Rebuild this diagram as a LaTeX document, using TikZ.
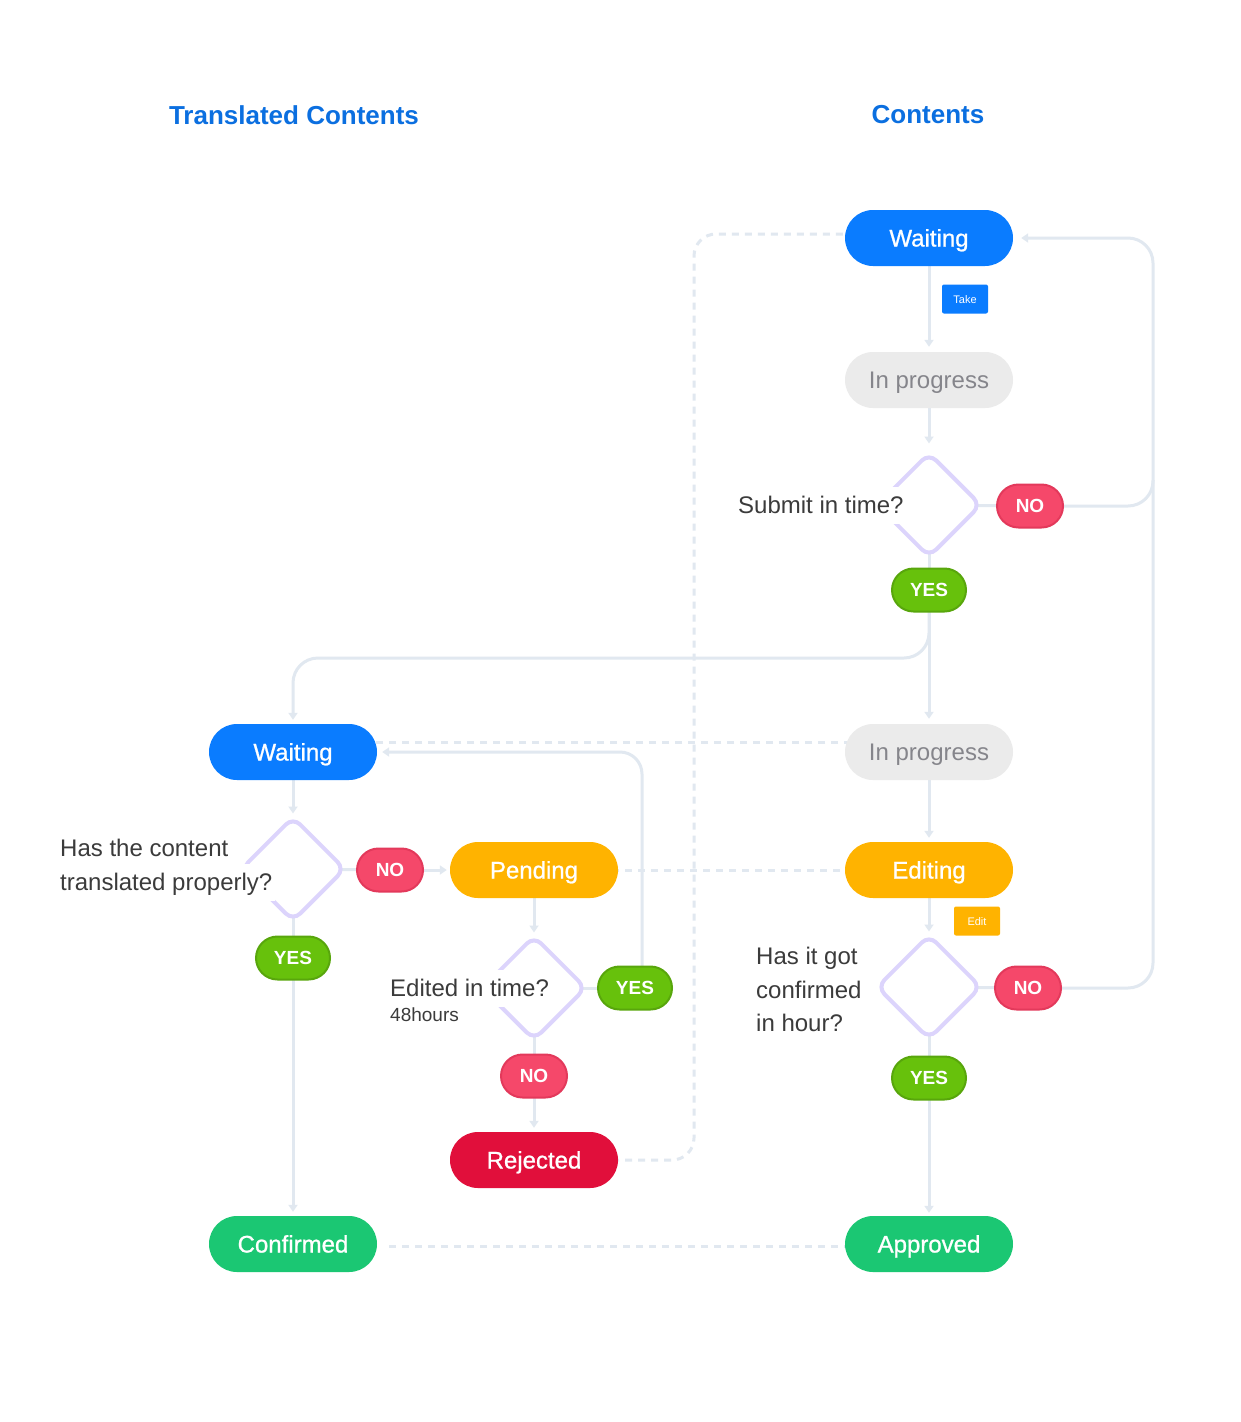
\documentclass[tikz,border=0pt]{standalone}
\usepackage{fontspec}
\setmainfont{Liberation Sans}
\newfontfamily\medfont[FakeBold=0.9]{Liberation Sans}
\usetikzlibrary{shapes.geometric,arrows.meta,backgrounds}
\definecolor{hblue}{HTML}{0B6FE0}
\definecolor{pblue}{HTML}{0A7CFF}
\definecolor{pgray}{HTML}{EBEBEB}
\definecolor{pgraytext}{HTML}{85858B}
\definecolor{amber}{HTML}{FFB300}
\definecolor{nored}{HTML}{F5486A}
\definecolor{noborder}{HTML}{E3395B}
\definecolor{yesgreen}{HTML}{67C10C}
\definecolor{yesborder}{HTML}{58A60C}
\definecolor{rejred}{HTML}{E10F3B}
\definecolor{okgreen}{HTML}{1BC773}
\definecolor{linec}{HTML}{E1E8F0}
\definecolor{lav}{HTML}{DCD4FC}
\definecolor{qtext}{HTML}{3B3B3B}
\begin{document}
\begin{tikzpicture}[x=1pt,y=-1pt,
  pill/.style={rectangle, rounded corners=28pt, minimum width=168pt, minimum height=56pt, inner sep=0pt, font=\medfont\fontsize{24}{28}\selectfont, text height=17pt, text depth=0pt},
  bluepill/.style={pill, fill=pblue, text=white},
  graypill/.style={pill, fill=pgray, text=pgraytext, font=\fontsize{24}{28}\selectfont},
  amberpill/.style={pill, fill=amber, text=white},
  redpill/.style={pill, fill=rejred, text=white},
  greenpill/.style={pill, fill=okgreen, text=white},
  tag/.style={rectangle, rounded corners=21.5pt, minimum height=43pt, line width=2pt, inner sep=0pt, font=\bfseries\fontsize{19}{22}\selectfont, text height=13.6pt, text depth=0pt, text=white},
  notag/.style={tag, fill=nored, draw=noborder, minimum width=66pt},
  yestag/.style={tag, fill=yesgreen, draw=yesborder, minimum width=74pt},
  decision/.style={diamond, draw=lav, fill=white, line width=4pt, minimum width=105pt, minimum height=105pt, inner sep=0pt, rounded corners=10pt},
  smalllabel/.style={rectangle, rounded corners=2pt, minimum width=46pt, minimum height=29pt, inner sep=0pt, text=white, font=\fontsize{11}{13}\selectfont, text height=8pt, text depth=0pt},
  question/.style={anchor=west, inner xsep=4pt, inner ysep=10pt, text=qtext, font=\fontsize{24}{28}\selectfont, text height=17pt, text depth=0pt},
  heading/.style={text=hblue, font=\bfseries\fontsize{26}{30}\selectfont},
  conn/.style={draw=linec, line width=3pt},
  arr/.style={conn, -{Triangle[length=7pt,width=9pt]}, shorten >=5pt},
  dashline/.style={draw=linec, line width=3pt, dash pattern=on 7pt off 6pt}
]
\path[use as bounding box] (0,0) rectangle (1240,1422);

\node[heading] (h1) at (294,115) {Translated Contents};
\node[heading] (h2) at (928,115) {Contents};

\node[bluepill] (W1) at (929,238) {Waiting};
\node[smalllabel, fill=pblue] (take) at (965,299) {Take};
\node[graypill] (IP1) at (929,380) {In progress};
\node[decision] (D1) at (929,505) {};
\node[question, fill=white] (q1) at (734,505) {Submit in time?};
\node[notag] (NO1) at (1030,506) {NO};
\node[yestag] (YES1) at (929,590) {YES};

\node[bluepill] (W2) at (293,752) {Waiting};
\node[graypill] (IP2) at (929,752) {In progress};
\node[decision] (D2) at (293,869) {};
\node[question] (q2a) at (56,848) {Has the content};
\node[question, fill=white, inner xsep=3pt] (q2b) at (57,882) {translated properly?};
\node[notag] (NO2) at (390,870) {NO};
\node[amberpill] (Pend) at (534,870) {Pending};
\node[amberpill] (Edit) at (929,870) {Editing};
\node[smalllabel, fill=amber] (editl) at (977,921) {Edit};
\node[yestag] (YES2) at (293,958) {YES};

\node[decision] (D3) at (534,988) {};
\node[question, fill=white] (q3) at (386,988) {Edited in time?};
\node[question, font=\fontsize{19}{22}\selectfont, text height=13.5pt, inner ysep=2pt] (q3b) at (386,1015) {48hours};
\node[yestag] (YES3) at (635,988) {YES};
\node[notag] (NO4) at (534,1076) {NO};
\node[redpill] (Rej) at (534,1160) {Rejected};

\node[decision] (D4) at (929,987) {};
\node[question] (q4a) at (752,956) {Has it got};
\node[question] (q4b) at (752,990) {confirmed};
\node[question] (q4c) at (752,1023) {in hour?};
\node[notag] (NO3) at (1028,988) {NO};
\node[yestag] (YES4) at (929,1078) {YES};

\node[greenpill] (Conf) at (293,1244) {Confirmed};
\node[greenpill] (Appr) at (929,1244) {Approved};

\begin{scope}[on background layer]
\fill[white] (0,0) rectangle (1240,1422);
% right column
\draw[arr] (W1.center) -- (IP1.north);
\draw[arr, shorten >=7pt] (IP1.center) -- (D1.north);
\draw[conn] (D1.center) -- (NO1.center);
\draw[conn] (D1.center) -- (YES1.center);
\draw[arr, shorten >=8pt, rounded corners=25pt] (NO1.center) -- (1153,506) -- (1153,238) -- (W1.east);
\draw[arr] (YES1.center) -- (IP2.north);
\draw[arr, shorten >=4pt, rounded corners=25pt] (YES1.center) -- (929,658) -- (293,658) -- (W2.north);
\draw[arr, shorten >=4pt] (IP2.center) -- (Edit.north);
\draw[arr, shorten >=1pt] (Edit.center) -- (D4.north);
\draw[conn] (D4.center) -- (NO3.center);
\draw[conn, rounded corners=25pt] (NO3.center) -- (1153,988) -- (1153,480);
\draw[conn] (D4.center) -- (YES4.center);
\draw[arr, shorten >=3pt] (YES4.center) -- (Appr.north);
% left column
\draw[arr, shorten >=1pt] (W2.center) -- (D2.north);
\draw[conn] (D2.center) -- (NO2.center);
\draw[arr, shorten >=3pt] (NO2.center) -- (Pend.west);
\draw[conn] (D2.center) -- (YES2.center);
\draw[arr, shorten >=4pt] (YES2.center) -- (Conf.north);
% middle column
\draw[arr, shorten >=1pt] (Pend.center) -- (D3.north);
\draw[conn] (D3.center) -- (YES3.center);
\draw[arr, rounded corners=22pt] (642,988) -- (642,752) -- (W2.east);
\draw[conn] (D3.center) -- (NO4.center);
\draw[arr, shorten >=4pt] (NO4.center) -- (Rej.north);
% dashed links
\draw[dashline] ([yshift=10pt]IP2.center) -- ([yshift=10pt]W2.center);
\draw[dashline, rounded corners=22pt] (Rej.center) -- (694,1160) -- (694,234) -- (W1.center |- 0,234);
\draw[dashline] (Pend.center) -- (Edit.center);
\draw[dashline, shorten <=12pt] ([yshift=-2pt]Conf.east) -- ([yshift=-2pt]Appr.center);
\end{scope}
\end{tikzpicture}
\end{document}
